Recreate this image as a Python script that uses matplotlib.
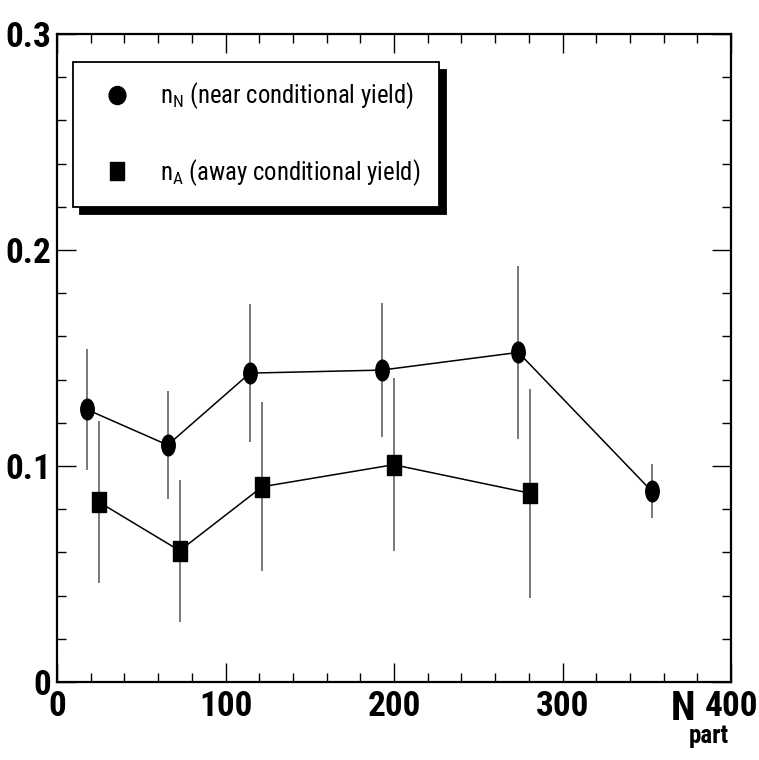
import matplotlib
matplotlib.use("Agg")
import matplotlib.pyplot as plt
from matplotlib.lines import Line2D
from matplotlib.path import Path
from matplotlib.ticker import MultipleLocator, FuncFormatter

plt.rcParams["font.family"] = ["Roboto Condensed", "IBM Plex Sans Condensed", "DejaVu Sans"]

# near-side conditional yield vs. number of participants
near_npart = [17.6, 65.7, 114.5, 192.7, 273.8, 352.9]
near_yield = [0.1262, 0.1097, 0.1430, 0.1444, 0.1526, 0.0884]
near_err = [0.028, 0.025, 0.032, 0.031, 0.040, 0.0125]

# away-side conditional yield
away_npart = [24.9, 72.8, 121.8, 199.8, 280.7]
away_yield = [0.0833, 0.0608, 0.0904, 0.1006, 0.0874]
away_err = [0.0374, 0.0328, 0.0390, 0.0400, 0.0484]

near_label = r"n$_\mathregular{N}$ (near conditional yield)"
away_label = r"n$_\mathregular{A}$ (away conditional yield)"


def stretched(path, sx, sy):
    """Return a copy of a marker path squeezed along x/y."""
    return Path(path.vertices * [sx, sy], path.codes)


square = Path([(-0.5, -0.5), (0.5, -0.5), (0.5, 0.5), (-0.5, 0.5), (-0.5, -0.5)],
              [Path.MOVETO, Path.LINETO, Path.LINETO, Path.LINETO, Path.CLOSEPOLY])
ellipse_marker = stretched(Path.unit_circle(), 0.65, 1.0)
box_marker = stretched(square, 0.65, 1.0)

fig = plt.figure(figsize=(7.59, 7.60), dpi=100)
ax = fig.add_axes([57 / 759, 78 / 760, 674 / 759, 648 / 760])

# error bars first, then the connecting lines and markers on top
ax.errorbar(near_npart, near_yield, yerr=near_err, fmt="none",
            ecolor="#555555", elinewidth=1.1, capsize=0, zorder=2)
ax.errorbar(away_npart, away_yield, yerr=away_err, fmt="none",
            ecolor="#555555", elinewidth=1.1, capsize=0, zorder=2)
ax.plot(near_npart, near_yield, color="black", lw=1.1,
        marker=ellipse_marker, markersize=14.9, markerfacecolor="black",
        markeredgecolor="black", zorder=3)
ax.plot(away_npart, away_yield, color="black", lw=1.1,
        marker=box_marker, markersize=15.0, markerfacecolor="black",
        markeredgecolor="black", zorder=3)

ax.set_xlim(0, 400)
ax.set_ylim(0, 0.3)
ax.xaxis.set_major_locator(MultipleLocator(100))
ax.xaxis.set_minor_locator(MultipleLocator(20))
ax.yaxis.set_major_locator(MultipleLocator(0.1))
ax.yaxis.set_minor_locator(MultipleLocator(0.02))
ax.xaxis.set_major_formatter(FuncFormatter(lambda v, _: f"{v:.0f}"))
ax.yaxis.set_major_formatter(FuncFormatter(lambda v, _: "0" if abs(v) < 1e-9 else f"{v:.1f}"))

ax.tick_params(which="both", direction="in", top=True, right=True, width=1.0)
ax.tick_params(which="major", length=13.5, labelsize=25.5)
ax.tick_params(which="minor", length=6.8)
ax.tick_params(axis="x", which="major", pad=6)
ax.tick_params(axis="y", which="major", pad=4)
for lbl in ax.get_xticklabels() + ax.get_yticklabels():
    lbl.set_fontweight("bold")
for spine in ax.spines.values():
    spine.set_linewidth(1.6)

# axis title sits at the right end, below the axis
ax.text(0.911, -0.058, "N", transform=ax.transAxes, fontsize=29,
        fontweight="bold", ha="left", va="baseline")
ax.text(0.937, -0.094, "part", transform=ax.transAxes, fontsize=18,
        fontweight="bold", ha="left", va="baseline")

handles = [
    Line2D([], [], ls="none", marker=stretched(Path.unit_circle(), 0.93, 1.0),
           markersize=13, color="black", label=near_label),
    Line2D([], [], ls="none", marker=stretched(square, 0.73, 1.0),
           markersize=13.2, color="black", label=away_label),
]
leg = ax.legend(handles=handles, loc="upper left", bbox_to_anchor=(0.0237, 0.957),
                borderaxespad=0, fontsize=17.8, fancybox=False, framealpha=1,
                edgecolor="black", borderpad=0.75, handlelength=2.05,
                handletextpad=0.72, labelspacing=1.85,
                shadow={"ox": 5, "oy": -5.5, "color": "black", "alpha": 1})
leg.get_frame().set_linewidth(1.3)

fig.savefig("out.png", dpi=100)
